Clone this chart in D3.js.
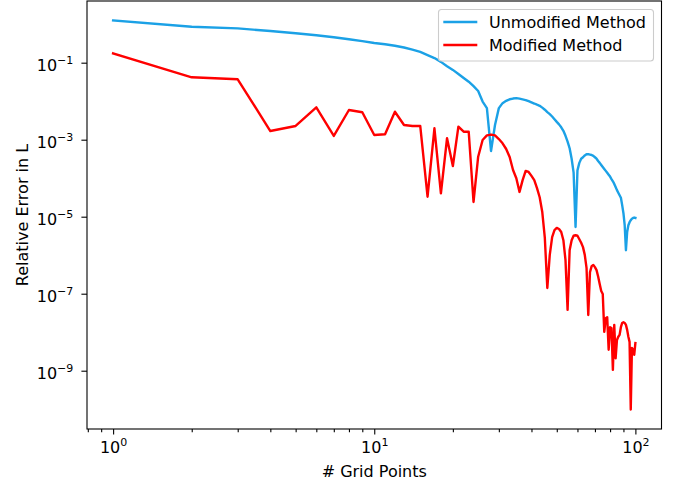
<!DOCTYPE html>
<html>
<head>
<meta charset="utf-8">
<script src="https://cdn.jsdelivr.net/npm/d3@7"></script>
<style>
  body { margin: 0; background: #ffffff; }
  svg text { font-family: "DejaVu Sans", sans-serif; fill: #000; }
</style>
</head>
<body>
<svg id="chart" width="677" height="484"></svg>
<script>
// Number of grid points used in each run
const gridPoints = [
  1, 2, 3, 4, 5, 6, 7, 8, 9, 10,
  11, 12, 13, 14, 15, 16, 17, 18, 19, 20,
  21, 22, 23, 24, 25, 26, 27, 28, 29, 30,
  31, 32, 33, 34, 35, 36, 37, 38, 39, 40,
  41, 42, 43, 44, 45, 46, 47, 48, 49, 50,
  51, 52, 53, 54, 55, 56, 57, 58, 59, 60,
  61, 62, 63, 64, 65, 66, 67, 68, 69, 70,
  71, 72, 73, 74, 75, 76, 77, 78, 79, 80,
  81, 82, 83, 84, 85, 86, 87, 88, 89, 90,
  91, 92, 93, 94, 95, 96, 97, 98, 99, 100
];

// Relative error in L, unmodified method
const unmodifiedError = [
  1.25, 0.86, 0.78, 0.665, 0.58, 0.515, 0.457, 0.407, 0.363, 0.324,
  0.302, 0.275, 0.248, 0.219, 0.19, 0.158, 0.132, 0.105, 0.081, 0.065,
  0.051, 0.040, 0.032, 0.0245, 0.0184, 0.0098, 0.0066, 5.1e-4, 0.0024, 0.0066,
  0.0089, 0.0102, 0.0112, 0.0117, 0.0120, 0.0117, 0.0112, 0.0107, 0.0100, 0.0093,
  0.0087, 0.0081, 0.0076, 0.0068, 0.0060, 0.0052, 0.0046, 0.0040, 0.0034, 0.0029,
  0.0025, 0.0021, 0.0017, 0.00126, 8.9e-4, 6.0e-4, 3.2e-4, 1.4e-4, 5.4e-6, 1.6e-4,
  2.5e-4, 3.2e-4, 3.5e-4, 3.9e-4, 4.2e-4, 4.2e-4, 4.1e-4, 4.0e-4, 3.8e-4, 3.5e-4,
  3.2e-4, 2.8e-4, 2.5e-4, 2.2e-4, 1.95e-4, 1.74e-4, 1.55e-4, 1.38e-4, 1.23e-4, 1.10e-4,
  9.5e-5, 8.3e-5, 7.1e-5, 5.9e-5, 4.9e-5, 4.2e-5, 3.6e-5, 3.1e-5, 2.0e-5, 1.23e-5,
  6.0e-6, 1.35e-6, 4.0e-6, 6.0e-6, 7.2e-6, 8.1e-6, 8.9e-6, 9.3e-6, 9.5e-6, 9.3e-6
];

// Relative error in L, modified method
const modifiedError = [
  0.175, 0.0418, 0.0371, 0.00168, 0.00227, 0.00695, 0.00125, 0.0059, 0.00515, 0.00132,
  0.00138, 0.00533, 0.00241, 0.00227, 0.00227, 3.3e-5, 0.00198, 4.06e-5, 0.00109, 2.07e-4,
  0.00218, 0.00161, 0.00161, 2.41e-5, 3.61e-4, 9.8e-4, 0.00129, 0.00136, 0.00129, 0.00104,
  8.05e-4, 5.73e-4, 3.56e-4, 1.63e-4, 1.0e-4, 4.4e-5, 8.9e-5, 1.55e-4, 1.45e-4, 1.15e-4,
  8.9e-5, 5.5e-5, 3.2e-5, 1.32e-5, 2.8e-6, 1.41e-7, 1.02e-6, 2.95e-6, 4.5e-6, 5.1e-6,
  4.8e-6, 4.0e-6, 2.45e-6, 7.4e-7, 3.8e-8, 1.35e-6, 2.45e-6, 3.2e-6, 3.3e-6, 3.2e-6,
  2.6e-6, 2.1e-6, 1.62e-6, 1.02e-6, 4.7e-7, 2.8e-8, 3.6e-7, 5.2e-7, 5.6e-7, 4.9e-7,
  4.1e-7, 2.8e-7, 1.78e-7, 1.17e-7, 9.8e-8, 1.02e-8, 2.3e-8, 2.45e-8, 3.5e-9, 1.35e-8,
  1.29e-8, 1.05e-9, 1.55e-8, 2.1e-9, 6.3e-9, 7.6e-9, 8.5e-9, 1.35e-8, 1.74e-8, 1.82e-8,
  1.74e-8, 1.55e-8, 1.15e-8, 7.6e-9, 5.6e-9, 9.8e-11, 3.9e-9, 3.5e-9, 2.6e-9, 5.2e-9
];

const seriesNames = ["Unmodified Method", "Modified Method"];
const seriesColors = ["#1ba1e6", "#ff0000"];

const xMajorTicks = [1, 10, 100];
const xMajorExponents = ["0", "1", "2"];
const xMinorTicks = [0.8, 0.9, 2, 3, 4, 5, 6, 7, 8, 9, 20, 30, 40, 50, 60, 70, 80, 90];
const yMajorTicks = [1e-1, 1e-3, 1e-5, 1e-7, 1e-9];
const yMajorExponents = ["\u22121", "\u22123", "\u22125", "\u22127", "\u22129"];

const xLabel = "# Grid Points";
const yLabel = "Relative Error in L";

// ---- layout ----
const plot = { left: 87, right: 661.5, top: 1, bottom: 429 };
const fontSize = 16;
const supSize = 11;

// Log-space padding of 5% on each side of the data extent
function paddedLogDomain(values) {
  const lo = Math.log10(d3.min(values)), hi = Math.log10(d3.max(values));
  const pad = 0.05 * (hi - lo);
  return [Math.pow(10, lo - pad), Math.pow(10, hi + pad)];
}

const x = d3.scaleLog()
  .domain(paddedLogDomain(gridPoints))
  .range([plot.left, plot.right]);

const y = d3.scaleLog()
  .domain(paddedLogDomain(unmodifiedError.concat(modifiedError)))
  .range([plot.bottom, plot.top]);

const svg = d3.select("#chart");

svg.append("defs").append("clipPath").attr("id", "plot-clip")
  .append("rect")
  .attr("x", plot.left).attr("y", plot.top)
  .attr("width", plot.right - plot.left).attr("height", plot.bottom - plot.top);

// ---- series lines ----
const line = d3.line()
  .x(d => x(d[0]))
  .y(d => y(d[1]));

[unmodifiedError, modifiedError].forEach((vals, i) => {
  svg.append("path")
    .attr("clip-path", "url(#plot-clip)")
    .attr("d", line(gridPoints.map((g, k) => [g, vals[k]])))
    .attr("fill", "none")
    .attr("stroke", seriesColors[i])
    .attr("stroke-width", 2.4)
    .attr("stroke-linejoin", "round")
    .attr("stroke-linecap", "square");
});

// ---- axes ----
const xAxisMinor = svg.append("g")
  .attr("transform", `translate(0,${plot.bottom})`)
  .call(d3.axisBottom(x).tickValues(xMinorTicks).tickSize(3.2).tickFormat(""));
const xAxisMajor = svg.append("g")
  .attr("transform", `translate(0,${plot.bottom})`)
  .call(d3.axisBottom(x).tickValues(xMajorTicks).tickSize(5.6).tickPadding(0));
const yAxis = svg.append("g")
  .attr("transform", `translate(${plot.left},0)`)
  .call(d3.axisLeft(y).tickValues(yMajorTicks).tickSize(5.6));

[xAxisMinor, xAxisMajor, yAxis].forEach(g => {
  g.select(".domain").remove();
  g.selectAll(".tick line").attr("stroke", "#000").attr("stroke-width", 1.1);
});

// Power-of-ten labels with superscript exponents
xAxisMajor.selectAll(".tick text").each(function(d, i) {
  const t = d3.select(this)
    .text(null)
    .attr("y", 24.3).attr("dy", null)
    .attr("font-size", fontSize)
    .attr("font-family", "DejaVu Sans, sans-serif")
    .attr("text-anchor", "middle");
  t.append("tspan").text("10");
  t.append("tspan").attr("font-size", supSize).attr("dy", -7.5).text(xMajorExponents[i]);
});

yAxis.selectAll(".tick text").each(function(d, i) {
  const t = d3.select(this)
    .text(null)
    .attr("x", -13.7).attr("y", 8).attr("dy", null)
    .attr("font-size", fontSize)
    .attr("font-family", "DejaVu Sans, sans-serif")
    .attr("text-anchor", "end");
  t.append("tspan").text("10");
  t.append("tspan").attr("font-size", supSize).attr("dy", -7.5).text(yMajorExponents[i]);
});

// ---- frame ----
svg.append("rect")
  .attr("x", plot.left).attr("y", plot.top)
  .attr("width", plot.right - plot.left).attr("height", plot.bottom - plot.top)
  .attr("fill", "none").attr("stroke", "#000").attr("stroke-width", 1.1);

// ---- axis titles ----
svg.append("text")
  .attr("x", (plot.left + plot.right) / 2).attr("y", 476.7)
  .attr("text-anchor", "middle").attr("font-size", fontSize)
  .text(xLabel);

svg.append("text")
  .attr("transform", `translate(28.3,${(plot.top + plot.bottom) / 2}) rotate(-90)`)
  .attr("text-anchor", "middle").attr("font-size", fontSize)
  .text(yLabel);

// ---- legend ----
const legend = svg.append("g");
legend.append("rect")
  .attr("x", 438.5).attr("y", 9.5).attr("width", 215).attr("height", 51.5)
  .attr("rx", 3).attr("fill", "#ffffff").attr("fill-opacity", 0.8)
  .attr("stroke", "#cccccc").attr("stroke-width", 1.1);

seriesNames.forEach((name, i) => {
  const cy = 22 + i * 23;
  legend.append("line")
    .attr("x1", 443.3).attr("x2", 477.3).attr("y1", cy).attr("y2", cy)
    .attr("stroke", seriesColors[i]).attr("stroke-width", 2.4);
  legend.append("text")
    .attr("x", 489).attr("y", cy + 5.5)
    .attr("font-size", fontSize)
    .text(name);
});
</script>
</body>
</html>
